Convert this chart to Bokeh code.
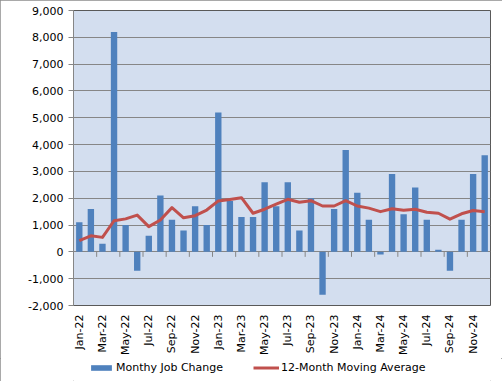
import math
from bokeh.plotting import figure
from bokeh.layouts import column
from bokeh.models import (ColumnDataSource, FixedTicker, NumeralTickFormatter,
                          Legend, LegendItem, Range1d)
from bokeh.embed import file_html
from bokeh.resources import INLINE

months = ["Jan-22", "Feb-22", "Mar-22", "Apr-22", "May-22", "Jun-22",
          "Jul-22", "Aug-22", "Sep-22", "Oct-22", "Nov-22", "Dec-22",
          "Jan-23", "Feb-23", "Mar-23", "Apr-23", "May-23", "Jun-23",
          "Jul-23", "Aug-23", "Sep-23", "Oct-23", "Nov-23", "Dec-23",
          "Jan-24", "Feb-24", "Mar-24", "Apr-24", "May-24", "Jun-24",
          "Jul-24", "Aug-24", "Sep-24", "Oct-24", "Nov-24", "Dec-24"]
job_change = [1100, 1600, 300, 8200, 1000, -700, 600, 2100, 1200, 800, 1700, 1000,
              5200, 1900, 1300, 1300, 2600, 1700, 2600, 800, 2000, -1600, 1600, 3800,
              2200, 1200, -100, 2900, 1400, 2400, 1200, 80, -700, 1200, 2900, 3600]
moving_avg = [420, 600, 540, 1160, 1230, 1370, 940, 1190, 1650, 1270, 1350, 1560,
              1900, 1950, 2020, 1440, 1590, 1780, 1960, 1850, 1910, 1710, 1710, 1910,
              1710, 1630, 1500, 1610, 1550, 1590, 1480, 1440, 1220, 1420, 1540, 1500]
y_ticks = list(range(-2000, 9001, 1000))
legend_labels = ["Monthy Job Change", "12-Month Moving Average"]

FONT = "DejaVu Sans"
BAR_COLOR = "#4F81BD"
LINE_COLOR = "#C0504D"
idx = list(range(len(months)))
src = ColumnDataSource(dict(x=idx, jobs=job_change, ma=moving_avg))

W, H, HL = 502, 358, 23
FL, FR, FT, FB = 73, 12, 10, 52
p = figure(width=W, height=H, output_backend="svg", toolbar_location=None,
           x_range=Range1d(-0.5, len(months) - 0.5),
           y_range=Range1d(y_ticks[0], y_ticks[-1]),
           min_border_left=FL, min_border_right=FR, min_border_top=FT,
           min_border_bottom=FB)
p.background_fill_color = "#D3DEEF"
p.border_fill_color = "white"
p.outline_line_color = "#595959"
p.outline_line_width = 1

p.vbar(x="x", top="jobs", width=0.55, source=src,
       fill_color=BAR_COLOR, line_color=None)
p.line(x="x", y="ma", source=src, line_color=LINE_COLOR, line_width=3,
       line_join="round")

# category tick marks on the zero line (between every second month)
px_per_unit = (H - FT - FB) / (y_ticks[-1] - y_ticks[0])
tlen = 5 / px_per_unit
bx = [i - 0.5 for i in range(2, len(months), 2)]
p.segment(x0=bx, x1=bx, y0=[0] * len(bx), y1=[-tlen] * len(bx),
          line_color="#868686", line_width=1)

# y axis
yax = p.yaxis[0]
yax.ticker = FixedTicker(ticks=y_ticks)
yax.formatter = NumeralTickFormatter(format="0,0")
yax.major_label_text_font = FONT
yax.major_label_text_font_size = "11px"
yax.major_label_text_color = "black"
yax.axis_line_color = "#868686"
yax.major_tick_line_color = "#868686"
yax.major_tick_out = 5
yax.major_tick_in = 0
yax.minor_tick_line_color = None
yax.major_label_standoff = 5

# x axis
xax = p.xaxis[0]
xt = list(range(0, len(months), 2))
xax.ticker = FixedTicker(ticks=xt)
xax.major_label_overrides = {i: months[i] for i in xt}
xax.major_label_orientation = math.pi / 2
xax.major_label_text_font = FONT
xax.major_label_text_font_size = "11px"
xax.major_label_text_color = "black"
xax.axis_line_color = None
xax.major_tick_line_color = None
xax.major_tick_out = 0
xax.major_tick_in = 0
xax.minor_tick_line_color = None
xax.major_label_standoff = 9

p.xgrid.grid_line_color = None
p.ygrid.ticker = FixedTicker(ticks=y_ticks)
p.ygrid.grid_line_color = "#868686"
p.ygrid.grid_line_width = 1

# legend strip (separate small figure under the chart; its ranges keep the
# series themselves out of view so only the legend swatches show)
lg = figure(width=W, height=HL, output_backend="svg", toolbar_location=None,
            x_range=Range1d(-0.5, len(months) - 0.5),
            y_range=Range1d(10 * y_ticks[-1], 11 * y_ticks[-1]),
            min_border=0, x_axis_type=None, y_axis_type=None)
lg.outline_line_color = None
lg.background_fill_color = "white"
lg.border_fill_color = "white"
lg.grid.grid_line_color = None
lb = lg.vbar(x="x", top="jobs", width=0.55, source=src,
             fill_color=BAR_COLOR, line_color=None)
ll = lg.line(x="x", y="ma", source=src, line_color=LINE_COLOR, line_width=3)
legend = Legend(items=[LegendItem(label=legend_labels[0], renderers=[lb]),
                       LegendItem(label=legend_labels[1], renderers=[ll])],
                orientation="horizontal", location=(15, 7),
                glyph_width=26, glyph_height=7, label_standoff=2, spacing=30,
                padding=2, margin=0, border_line_color=None,
                background_fill_alpha=0,
                label_text_font=FONT, label_text_font_size="11px",
                label_text_color="black")
lg.add_layout(legend, "center")

layout = column(p, lg, spacing=0)
layout.styles = {"outline": "1px solid #8C8C8C", "outline-offset": "-1px"}

open("out.html", "w").write(file_html(layout, INLINE))
